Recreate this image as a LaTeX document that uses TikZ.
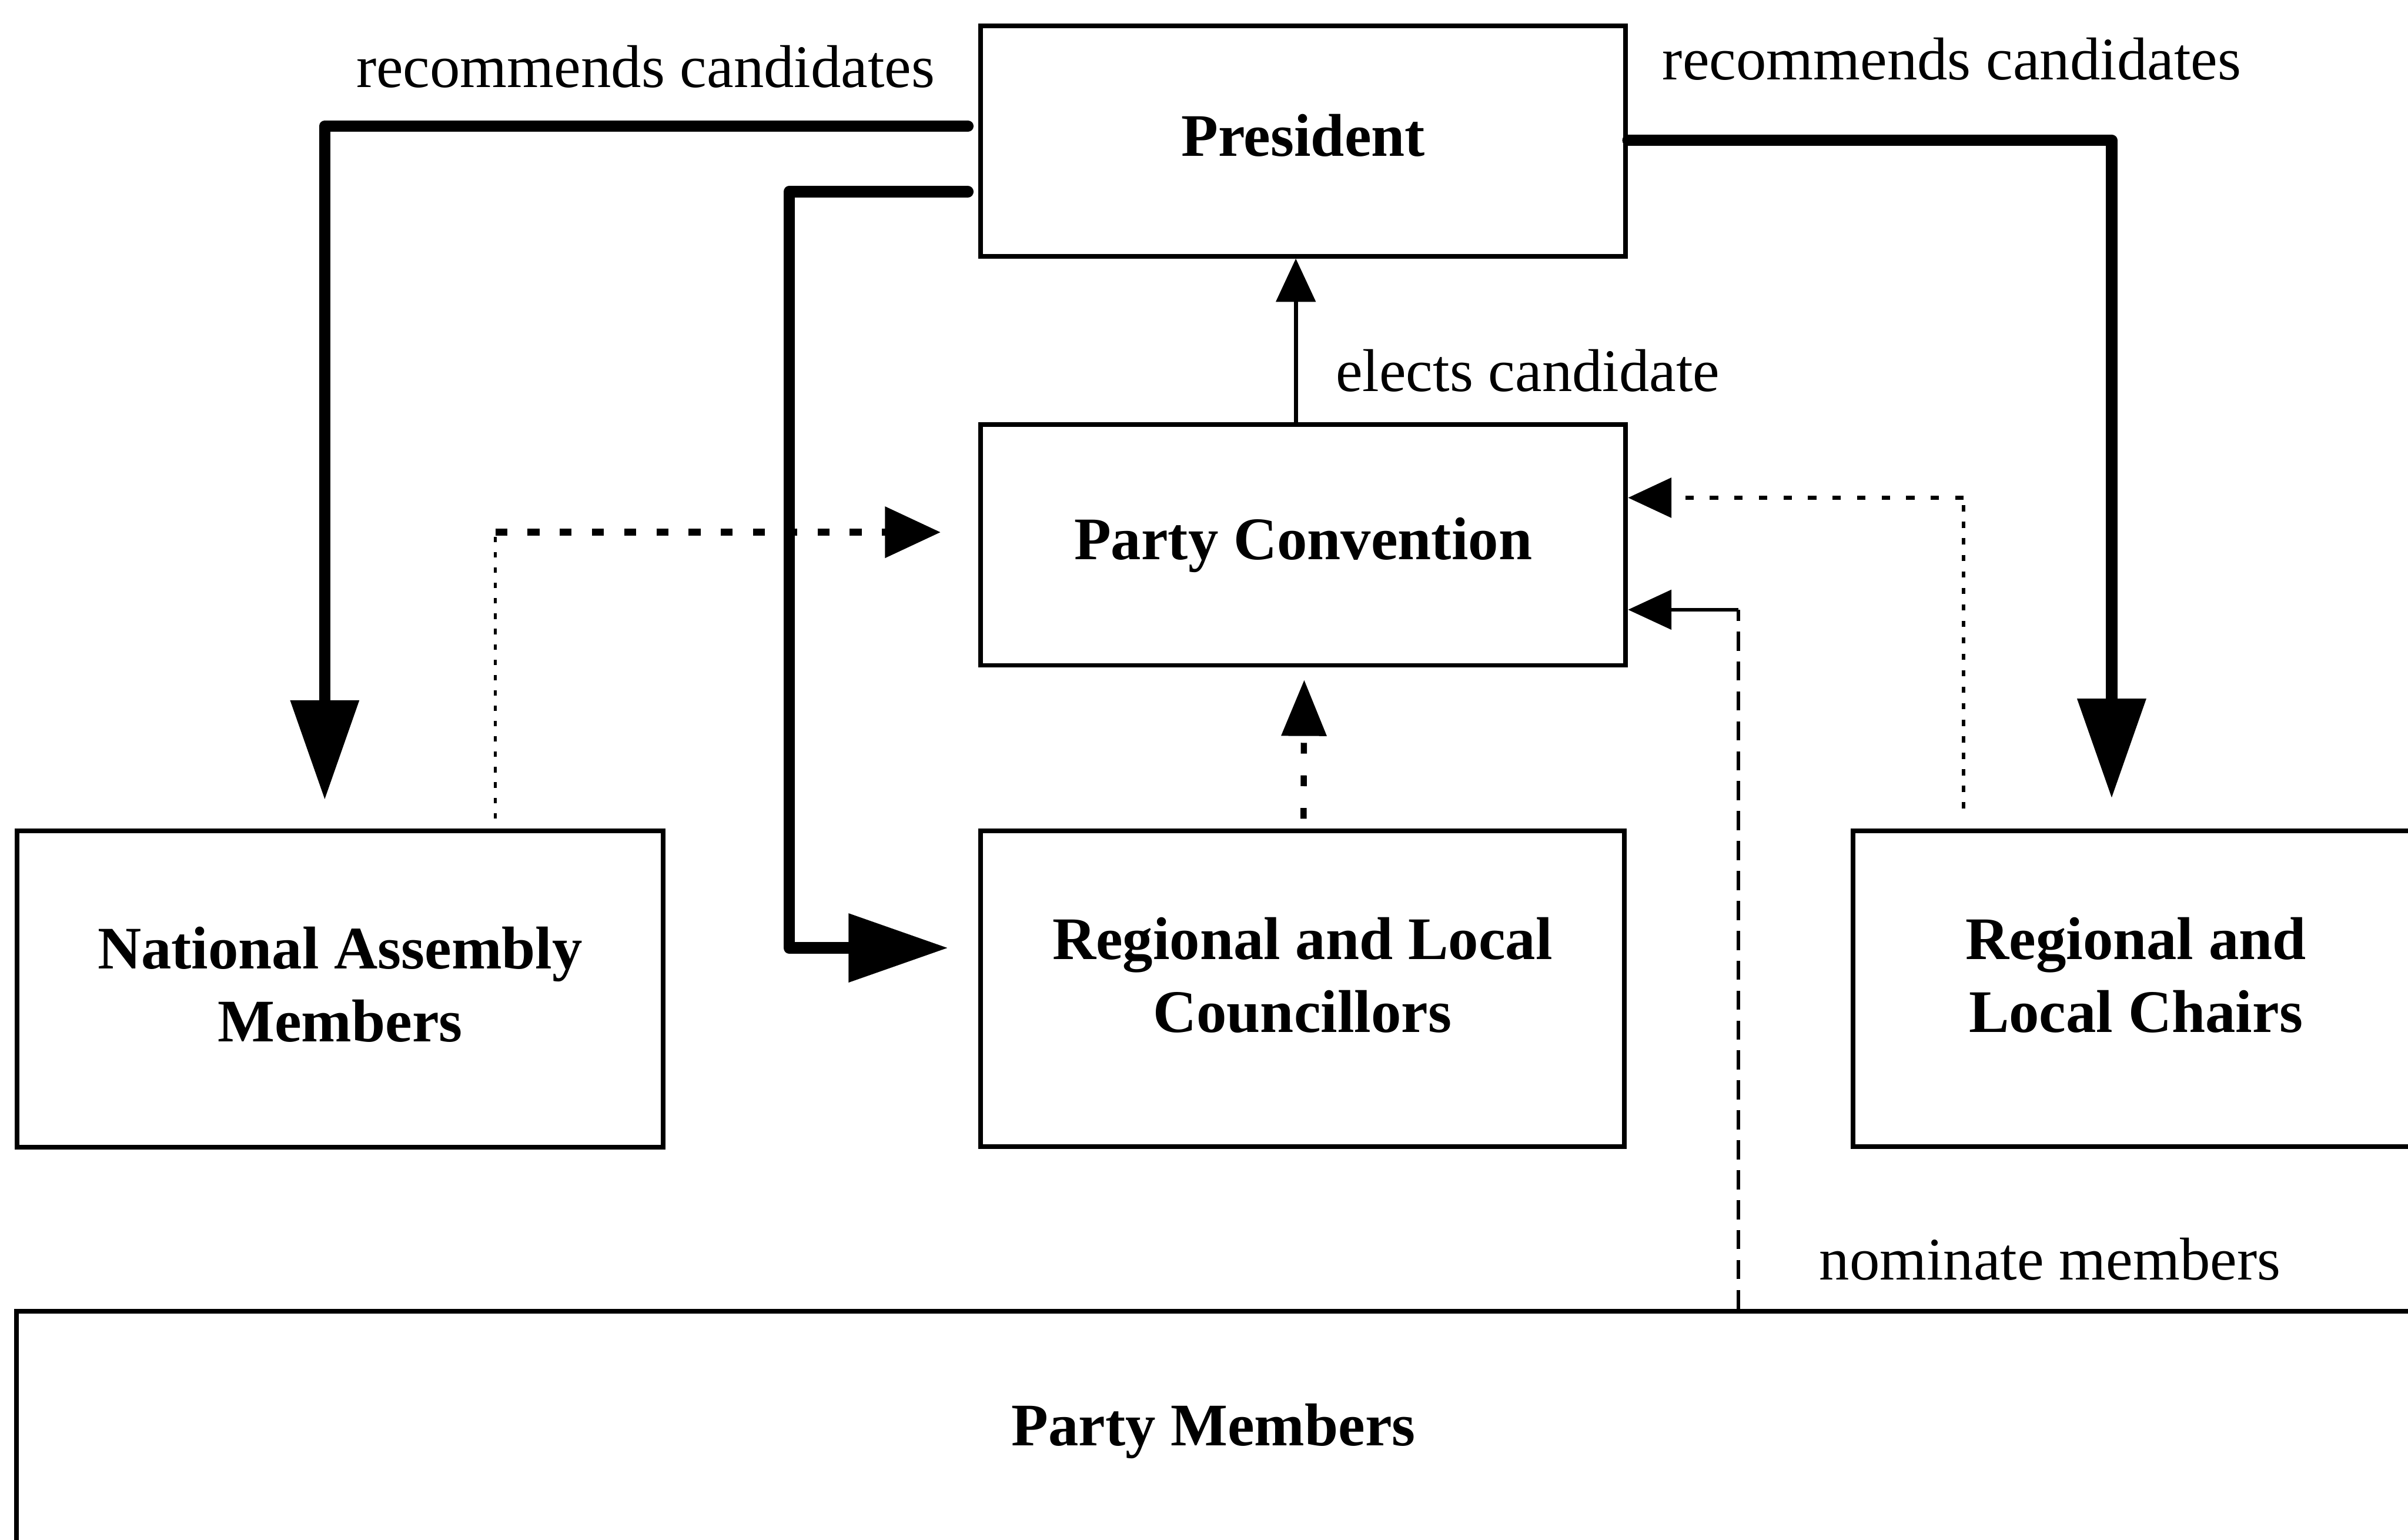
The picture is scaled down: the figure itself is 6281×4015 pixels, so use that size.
\documentclass[tikz,border=0pt]{standalone}
\usepackage{fontspec}
\setmainfont{Liberation Serif}
\usetikzlibrary{arrows.meta,calc}
\begin{document}
\begin{tikzpicture}[x=0.01cm,y=-0.01cm,
  box/.style={draw, line width=0.12cm, rectangle, inner sep=0pt, align=center,
    font=\fontsize{44.8pt}{54pt}\selectfont\bfseries},
  lbl/.style={inner sep=0pt, anchor=base, font=\fontsize{44.8pt}{54pt}\selectfont},
  heavy/.style={line width=0.30cm, line join=round, line cap=round},
  bighead/.style={-{Triangle[length=2.6cm,width=1.72cm]}},
  medhead/.style={-{Triangle[length=1.45cm,width=1.3cm]}},
  medheadb/.style={-{Triangle[length=1.46cm,width=1.15cm]}},
  smallhead/.style={-{Triangle[length=1.13cm,width=1.02cm]}}
]
\useasboundingbox (0,0) rectangle (6281,4015);
\clip (0,0) rectangle (6281,4015);

% boxes (text depth lifts the text a little inside each box)
\node[box, minimum width=16.82cm, minimum height=6cm, text depth=0.32cm]    (pres)   at (3399,368)  {President};
\node[box, minimum width=16.82cm, minimum height=6.28cm]                    (pc)     at (3399,1421) {Party Convention};
\node[box, minimum width=16.78cm, minimum height=8.23cm, text depth=0.72cm] (rlc)    at (3397,2578) {Regional and Local\\Councillors};
\node[box, minimum width=16.84cm, minimum height=8.25cm, text depth=0.24cm] (na)     at (887,2579)  {National Assembly\\Members};
\node[box, minimum width=14.74cm, minimum height=8.23cm, text depth=0.72cm] (chairs) at (5571,2578) {Regional and\\Local Chairs};
\node[box, minimum width=62.40cm, minimum height=6.5cm, text depth=0.58cm]  (pm)     at (3165,3745) {Party Members};

% labels
\node[lbl] (lrecl)  at (1684,227)  {recommends candidates};
\node[lbl] (lrecr)  at (5091,208)  {recommends candidates};
\node[lbl] (lelect) at (3985,1020) {elects candidate};
\node[lbl] (lnom)   at (5347,3337) {nominate members};

% President recommends candidates (heavy arrows)
\coordinate (t1s) at ($(pres.west)+(0,-39)$);
\coordinate (t1e) at ($(na.north)+(-40,0)$);
\draw[heavy, bighead, shorten <=0.27cm, shorten >=0.74cm] (t1s) -| (t1e);

\coordinate (t2s) at ($(pres.west)+(0,132)$);
\coordinate (t2e) at ($(rlc.west)+(0,-106)$);
\draw[heavy, bighead, shorten <=0.27cm, shorten >=0.78cm] (t2s) -- ++(-493,0) |- (t2e);

\coordinate (t3s) at ($(pres.east)+(0,-2)$);
\coordinate (t3e) at ($(chairs.north)+(-63,0)$);
\draw[heavy, bighead, shorten >=0.78cm] (t3s) -| (t3e);

% convention elects the president
\draw[line width=0.11cm, smallhead] ($(pc.north)+(-19,0)$) -- ($(pres.south)+(-19,0)$);

% National Assembly members to convention
\coordinate (nab) at ($(na.north)+(405,0)$);
\coordinate (pcl) at ($(pc.west)+(0,-33)$);
\coordinate (nac) at (nab |- pcl);
\draw[line width=0.08cm, dash pattern=on 0.14cm off 0.26cm, shorten <=0.26cm] (nab) -- (nac);
\draw[line width=0.18cm, dash pattern=on 0.31cm off 0.53cm, medhead, shorten >=0.98cm] (nac) -- (pcl);

% regional and local chairs to convention
\coordinate (chb) at ($(chairs.north)+(-449,0)$);
\coordinate (pcr) at ($(pc.east)+(0,-123)$);
\coordinate (chc) at (chb |- pcr);
\draw[line width=0.10cm, dash pattern=on 0.16cm off 0.27cm, shorten <=0.52cm] (chb) -- (chc);
\draw[line width=0.12cm, dash pattern=on 0.22cm off 0.42cm, smallhead] (chc) -- (pcr);

% party members nominate members
\coordinate (pmb) at ($(pm.north)+(1369,0)$);
\coordinate (pcr2) at ($(pc.east)+(0,169)$);
\coordinate (pmc) at (pmb |- pcr2);
\draw[line width=0.09cm, dash pattern=on 0.5cm off 0.28cm] (pmb) -- (pmc);
\draw[line width=0.10cm, smallhead] (pmc) -- (pcr2);

% councillors to convention
\draw[line width=0.16cm, dash pattern=on 0.28cm off 0.57cm, medheadb, shorten <=0.25cm, shorten >=0.32cm]
  ($(rlc.north)+(3,0)$) -- ($(pc.south)+(3,0)$);
\end{tikzpicture}
\end{document}
